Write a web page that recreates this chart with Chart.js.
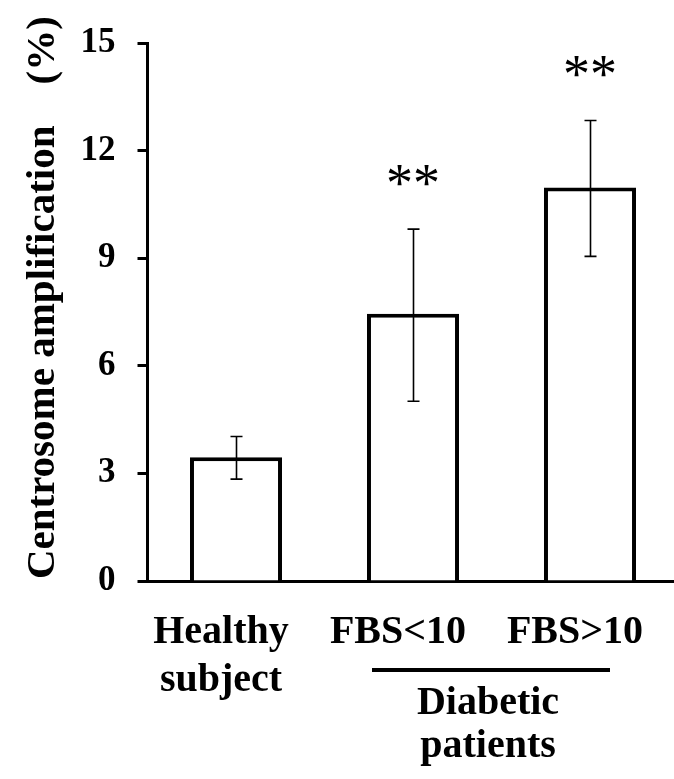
<!DOCTYPE html>
<html>
<head>
<meta charset="utf-8">
<script src="https://cdn.jsdelivr.net/npm/chart.js@4/dist/chart.umd.min.js"></script>
<style>
  html, body { margin: 0; padding: 0; background: #fff; overflow: hidden; }
  #wrap { width: 680px; height: 779px; }
</style>
</head>
<body>
<div id="wrap"><canvas id="chart" width="680" height="779"></canvas></div>
<script>
// Centrosome amplification by group (mean with error range)
const categories = [['Healthy', 'subject'], 'FBS<10', 'FBS>10'];
const meanValues = [3.45, 7.45, 10.97];
const errorUpper = [4.03, 9.81, 12.84];
const errorLower = [2.84, 5.01, 9.05];
const significance = ['', '**', '**'];
const yTicks = [0, 3, 6, 9, 12, 15];
const groupLabel = ['Diabetic', 'patients'];
const yTitle = '\u2002\u2009Centrosome amplification\u2003(%)';

const SERIF = '"Liberation Serif", "Times New Roman", serif';

const annotations = {
  id: 'annotations',
  afterDatasetsDraw(chart) {
    const ctx = chart.ctx;
    const y = chart.scales.y;
    const meta = chart.getDatasetMeta(0);
    ctx.save();
    ctx.strokeStyle = '#000';
    ctx.lineWidth = 1.6;
    meta.data.forEach((bar, i) => {
      const x = Math.round(bar.x) + 0.5;
      const hi = y.getPixelForValue(errorUpper[i]);
      const lo = y.getPixelForValue(errorLower[i]);
      ctx.beginPath();
      ctx.moveTo(x, hi); ctx.lineTo(x, lo);
      ctx.moveTo(x - 6, hi); ctx.lineTo(x + 6, hi);
      ctx.moveTo(x - 6, lo); ctx.lineTo(x + 6, lo);
      ctx.stroke();
      if (significance[i]) {
        ctx.fillStyle = '#000';
        ctx.font = '54px ' + SERIF;
        ctx.textAlign = 'center';
        ctx.textBaseline = 'alphabetic';
        ctx.fillText(significance[i], bar.x, hi - 28);
      }
    });
    ctx.restore();
  },
  afterDraw(chart) {
    const ctx = chart.ctx;
    const xs = chart.scales.x;
    const x1 = xs.getPixelForValue(1) - 41;
    const x2 = xs.getPixelForValue(2) + 20;
    const lineY = chart.chartArea.bottom + 89;
    ctx.save();
    ctx.fillStyle = '#000';
    ctx.fillRect(x1, lineY - 2, x2 - x1, 4);
    ctx.font = 'bold 40px ' + SERIF;
    ctx.textAlign = 'center';
    ctx.textBaseline = 'alphabetic';
    const cx = (x1 + x2) / 2 - 3;
    ctx.fillText(groupLabel[0], cx, lineY + 44);
    ctx.fillText(groupLabel[1], cx, lineY + 87);
    ctx.restore();
  }
};

new Chart(document.getElementById('chart'), {
  type: 'bar',
  data: {
    labels: categories,
    datasets: [{
      data: meanValues,
      backgroundColor: '#fff',
      borderColor: '#000',
      borderWidth: 4,
      borderSkipped: 'bottom',
      barPercentage: 0.52,
      categoryPercentage: 1
    }]
  },
  options: {
    responsive: false,
    devicePixelRatio: 1,
    animation: false,
    layout: { padding: { top: 38, right: 1.5, bottom: 0, left: 0 } },
    plugins: { legend: { display: false }, tooltip: { enabled: false } },
    scales: {
      x: {
        grid: { display: false, drawTicks: true, tickLength: 10 },
        border: { display: true, color: '#000', width: 3 },
        ticks: {
          color: '#000',
          padding: 18,
          labelOffset: -15,
          maxRotation: 0,
          autoSkip: false,
          font: { family: SERIF, size: 40, weight: 'bold', lineHeight: 1.2 }
        },
        afterFit(scale) { scale.height = 198; }
      },
      y: {
        min: 0,
        max: 15,
        afterBuildTicks(scale) { scale.ticks = yTicks.map(v => ({ value: v })); },
        grid: {
          drawOnChartArea: false,
          drawTicks: true,
          tickLength: 10,
          tickColor: '#000',
          tickWidth: 3
        },
        border: { display: true, color: '#000', width: 3 },
        ticks: {
          color: '#000',
          padding: 22,
          font: { family: SERIF, size: 35, weight: 'bold' }
        },
        title: {
          display: true,
          text: yTitle,
          color: '#000',
          padding: { top: 19, bottom: 0 },
          font: { family: SERIF, size: 41, weight: 'bold' }
        },
        afterFit(scale) { scale.width = 147.5; }
      }
    }
  },
  plugins: [annotations]
});
</script>
</body>
</html>
